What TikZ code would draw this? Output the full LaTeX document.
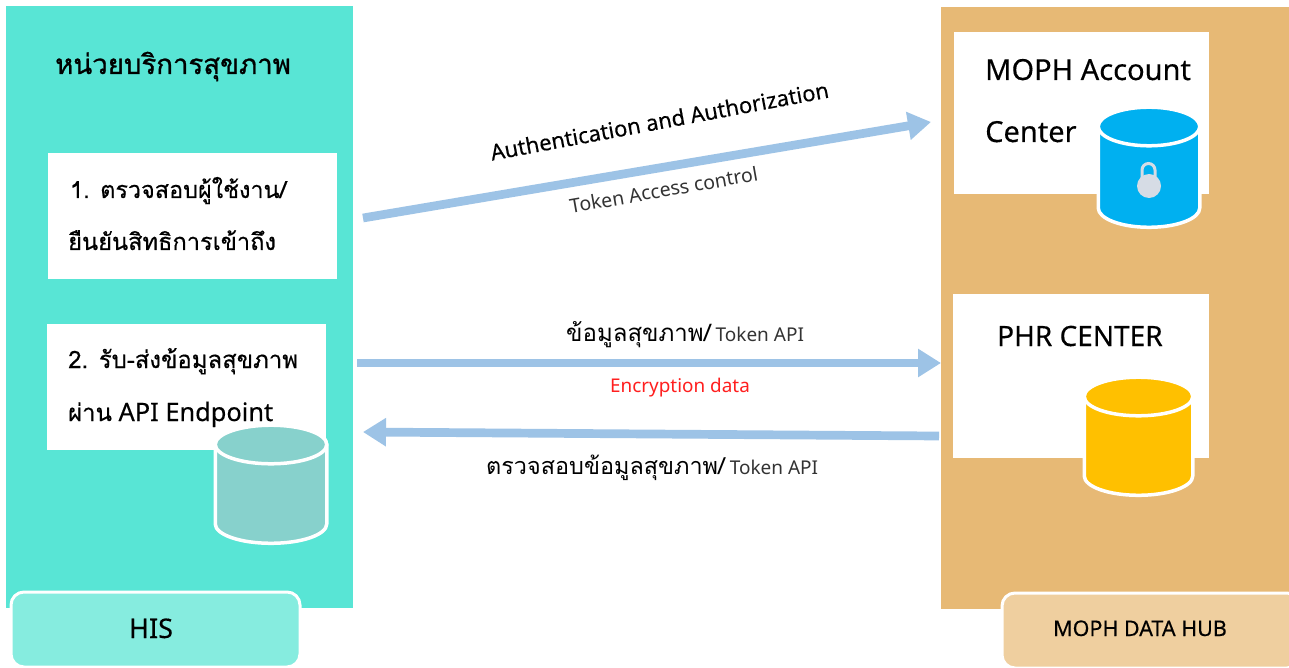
\documentclass[tikz,border=0pt]{standalone}
\usepackage{fontspec}
\setmainfont{Noto Sans}
\newfontfamily\thaifont[Script=Thai]{Loma}
\newfontfamily\thaimed[Script=Thai,FakeBold=0.5]{Loma}
\newfontfamily\thaisemi[Script=Thai,FakeBold=1]{Loma}
\newfontfamily\latinmed[FakeBold=0.3]{Noto Sans}
\usetikzlibrary{arrows.meta}
\definecolor{tealpanel}{HTML}{58E5D5}
\definecolor{tealtab}{HTML}{86ECDF}
\definecolor{tealcyl}{HTML}{87D1CC}
\definecolor{sandpanel}{HTML}{E7B975}
\definecolor{sandtab}{HTML}{EFCF9F}
\definecolor{flowblue}{HTML}{9DC3E6}
\definecolor{cylblue}{HTML}{00B0F0}
\definecolor{cylgold}{HTML}{FFC000}
\definecolor{lockgrey}{HTML}{D6DCE5}
\definecolor{redtxt}{HTML}{FF1F1F}
\tikzset{
  x=1pt,y=-1pt,
  whitebox/.style={fill=white,draw=none},
  tab/.style={draw=white,line width=3pt,rounded corners=13pt},
  flow/.style={draw=flowblue,line width=8.7pt,-{Triangle[length=23pt,width=27pt]}},
  txt/.style={anchor=base west,inner sep=0pt,text=black},
  ctr/.style={anchor=base,inner sep=0pt,text=black},
  cylstroke/.style={draw=white,line width=3.5pt,line join=round},
}
\newcommand{\cylinder}[6]{% cx, top y, bottom y, rx, ry, colour
  \path[cylstroke,fill=#6] ({#1-#4},#2) -- ({#1-#4},#3)
     arc[start angle=180,end angle=360,x radius=#4,y radius=-#5]
     -- ({#1+#4},#2) arc[start angle=0,end angle=180,x radius=#4,y radius=-#5] -- cycle;
  \path[cylstroke,fill=#6] (#1,#2) ellipse[x radius=#4,y radius=#5];
}
\begin{document}
\begin{tikzpicture}
\useasboundingbox (0,0) rectangle (1289,668);
\fill[white] (0,0) rectangle (1289,668);
% panels
\fill[tealpanel] (5.5,6) rectangle (353,608);
\fill[sandpanel] (941,7) rectangle (1289,609);
% white boxes
\fill[whitebox] (48,153) rectangle (337,279);
\fill[whitebox] (47,324) rectangle (326,450);
\fill[whitebox] (954,32) rectangle (1209,194);
\fill[whitebox] (953,294) rectangle (1209,458);
% tabs
\path[tab,fill=tealtab] (11,592) rectangle (300,667);
\path[tab,fill=sandtab] (1002,593) rectangle (1300,668);
% cylinders
\cylinder{271}{444.5}{524}{55.75}{19.3}{tealcyl}
\cylinder{1149}{126.5}{208}{50.75}{19.3}{cylblue}
\cylinder{1138.5}{396.5}{476}{54.25}{19.3}{cylgold}
% lock
\draw[lockgrey,line width=3pt] (1142,178) -- (1142,170) arc[start angle=180,end angle=0,x radius=6.5,y radius=-6.5] -- (1155,178);
\fill[lockgrey] (1149,186) circle[radius=12];
% text
\node[txt,font=\thaisemi\fontsize{27.6}{27.6}\selectfont] (title) at (55,74) {หน่วยบริการสุขภาพ};
\node[txt,font=\thaimed\fontsize{23.4}{23.4}\selectfont] (s1a) at (70,198) {1. ตรวจสอบผู้ใช้งาน/};
\node[txt,font=\thaimed\fontsize{23.6}{23.6}\selectfont] (s1b) at (68,250) {ยืนยันสิทธิการเข้าถึง};
\node[txt,font=\thaimed\fontsize{23.9}{23.9}\selectfont] (s2a) at (68,368) {2. รับ-ส่งข้อมูลสุขภาพ};
\node[txt,font=\latinmed\fontsize{25.4}{25.4}\selectfont] (s2b) at (68,421) {{\thaimed\fontsize{23.9}{23.9}\selectfont ผ่าน} API Endpoint};
\node[ctr,font=\latinmed\fontsize{27}{27}\selectfont] (his) at (151,638) {HIS};
\node[txt,font=\latinmed\fontsize{29}{29}\selectfont] (acc1) at (985,80) {MOPH Account};
\node[txt,font=\latinmed\fontsize{29}{29}\selectfont] (acc2) at (985,142) {Center};
\node[txt,font=\latinmed\fontsize{28}{28}\selectfont] (phr) at (997,346) {PHR CENTER};
\node[ctr,font=\latinmed\fontsize{21.5}{21.5}\selectfont] (hub) at (1140,636) {MOPH DATA HUB};
\node[ctr,rotate=10.6,font=\latinmed\fontsize{22}{22}\selectfont] (auth) at (661,129) {Authentication and Authorization};
\node[ctr,rotate=10,font=\fontsize{19.5}{19.5}\selectfont,text=black!80] (tok) at (665,197) {Token Access control};
\node[txt,font=\fontsize{19}{19}\selectfont,text=black!80] (l1) at (566,341) {{\thaifont\color{black}\fontsize{24}{24}\selectfont ข้อมูลสุขภาพ/} Token API};
\node[ctr,text=redtxt,font=\fontsize{18.9}{18.9}\selectfont] (enc) at (680,392) {Encryption data};
\node[txt,font=\fontsize{19}{19}\selectfont,text=black!80] (l2) at (486,474) {{\thaifont\color{black}\fontsize{23.4}{23.4}\selectfont ตรวจสอบข้อมูลสุขภาพ/} Token API};
% connectors
\coordinate (a1s) at (363,218);
\coordinate (a1e) at (931,122);
\coordinate (a2s) at (357,363);
\coordinate (a2e) at (941,363);
\coordinate (a3s) at (939,436);
\coordinate (a3e) at (363,432);
\draw[flow] (a1s) -- (a1e);
\draw[flow] (a2s) -- (a2e);
\draw[flow] (a3s) -- (a3e);
\end{tikzpicture}
\end{document}
